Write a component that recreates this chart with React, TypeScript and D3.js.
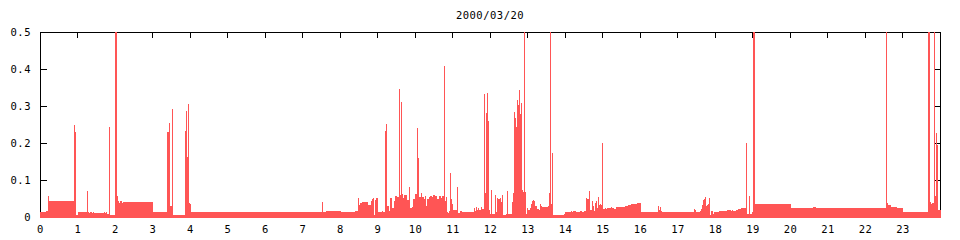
import React from "react";
import * as d3 from "d3";

const TITLE = "2000/03/20";

// start of each step (minutes after midnight)
const segStart = [
  0, 9.6, 12.8, 14.4, 54.4, 56, 57.6, 60.8, 75.2, 76.8,
  78.4, 80, 83.2, 84.8, 86.4, 102.4, 104, 105.6, 107.2, 110.4,
  112, 120, 123.2, 124.8, 126.4, 128, 131.2, 132.8, 180.8, 203.2,
  206.4, 208, 211.2, 212.8, 232, 233.6, 235.2, 236.8, 238.4, 240,
  241.6, 451.2, 452.8, 457.6, 481.6, 504, 508.8, 510.4, 512, 515.2,
  524.8, 529.6, 531.2, 532.8, 534.4, 536, 537.6, 540.8, 547.2, 548.8,
  552, 553.6, 555.2, 558.4, 560, 563.2, 566.4, 568, 571.2, 574.4,
  576, 577.6, 579.2, 580.8, 582.4, 587.2, 590.4, 592, 595.2, 596.8,
  600, 603.2, 604.8, 606.4, 609.6, 611.2, 614.4, 616, 617.6, 619.2,
  622.4, 624, 627.2, 628.8, 632, 635.2, 638.4, 641.6, 643.2, 646.4,
  648, 649.6, 651.2, 652.8, 654.4, 656, 657.6, 659.2, 660.8, 667.2,
  668.8, 672, 675.2, 694.4, 696, 697.6, 699.2, 700.8, 702.4, 705.6,
  707.2, 710.4, 712, 713.6, 715.2, 716.8, 718.4, 720, 721.6, 723.2,
  728, 729.6, 731.2, 732.8, 736, 737.6, 739.2, 740.8, 745.6, 747.2,
  748.8, 755.2, 756.8, 758.4, 760, 761.6, 763.2, 764.8, 766.4, 768,
  769.6, 771.2, 772.8, 774.4, 776, 777.6, 779.2, 780.8, 784, 785.6,
  787.2, 788.8, 790.4, 792, 795.2, 798.4, 800, 801.6, 803.2, 812.8,
  814.4, 816, 817.6, 819.2, 820.8, 838.4, 840, 849.6, 851.2, 852.8,
  857.6, 864, 867.2, 870.4, 873.6, 875.2, 878.4, 880, 883.2, 884.8,
  886.4, 888, 889.6, 891.2, 892.8, 894.4, 896, 897.6, 899.2, 900.8,
  904, 905.6, 907.2, 913.6, 915.2, 918.4, 921.6, 936, 940.8, 945.6,
  955.2, 961.6, 988.8, 990.4, 992, 993.6, 995.2, 1046.4, 1048, 1049.6,
  1056, 1057.6, 1059.2, 1060.8, 1062.4, 1064, 1065.6, 1067.2, 1068.8, 1070.4,
  1072, 1073.6, 1076.8, 1078.4, 1086.4, 1099.2, 1105.6, 1107.2, 1108.8, 1113.6,
  1116.8, 1121.6, 1129.6, 1131.2, 1134.4, 1136, 1139.2, 1140.8, 1144, 1201.6,
  1236.8, 1241.6, 1353.6, 1355.2, 1356.8, 1361.6, 1371.2, 1380.8, 1420.8, 1424,
  1425.6, 1427.2, 1430.4, 1432, 1433.6, 1435.2, 1436.8,
];

// value of each step
const segValue = [
  0.014, 0.017, 0.057, 0.043, 0.249, 0.23, 0.006, 0.014, 0.07, 0.014,
  0.011, 0.014, 0.011, 0.014, 0.011, 0.014, 0.011, 0.014, 0.008, 0.243,
  0.006, 0.62, 0.057, 0.043, 0.038, 0.043, 0.038, 0.041, 0.014, 0.23,
  0.254, 0.03, 0.292, 0.006, 0.232, 0.286, 0.162, 0.305, 0.038, 0.035,
  0.014, 0.04, 0.014, 0.016, 0.014, 0.016, 0.051, 0.032, 0.038, 0.04,
  0.032, 0.043, 0.049, 0.051, 0.005, 0.046, 0.051, 0.014, 0.016, 0.014,
  0.232, 0.251, 0.03, 0.016, 0.051, 0.024, 0.043, 0.057, 0.054, 0.346,
  0.059, 0.311, 0.062, 0.051, 0.059, 0.046, 0.081, 0.024, 0.027, 0.049,
  0.062, 0.241, 0.159, 0.054, 0.065, 0.054, 0.049, 0.057, 0.03, 0.049,
  0.054, 0.057, 0.054, 0.059, 0.057, 0.049, 0.057, 0.051, 0.057, 0.408,
  0.043, 0.054, 0.014, 0.011, 0.016, 0.119, 0.049, 0.035, 0.019, 0.081,
  0.011, 0.016, 0.014, 0.024, 0.016, 0.027, 0.019, 0.024, 0.019, 0.027,
  0.022, 0.332, 0.065, 0.281, 0.335, 0.259, 0.019, 0.008, 0.073, 0.008,
  0.059, 0.014, 0.051, 0.049, 0.051, 0.04, 0.059, 0.005, 0.008, 0.07,
  0.008, 0.04, 0.065, 0.284, 0.268, 0.243, 0.316, 0.303, 0.343, 0.278,
  0.308, 0.073, 0.068, 0.62, 0.068, 0.008, 0.024, 0.019, 0.024, 0.035,
  0.043, 0.046, 0.043, 0.03, 0.022, 0.019, 0.035, 0.03, 0.027, 0.03,
  0.065, 0.62, 0.035, 0.173, 0.005, 0.008, 0.014, 0.016, 0.014, 0.016,
  0.014, 0.016, 0.014, 0.016, 0.051, 0.049, 0.07, 0.019, 0.043, 0.03,
  0.016, 0.038, 0.043, 0.024, 0.054, 0.032, 0.035, 0.032, 0.2, 0.022,
  0.024, 0.022, 0.024, 0.027, 0.024, 0.022, 0.027, 0.03, 0.032, 0.035,
  0.038, 0.014, 0.03, 0.019, 0.027, 0.016, 0.014, 0.022, 0.019, 0.014,
  0.016, 0.022, 0.032, 0.046, 0.049, 0.054, 0.03, 0.032, 0.035, 0.051,
  0.005, 0.016, 0.008, 0.014, 0.016, 0.019, 0.016, 0.019, 0.016, 0.019,
  0.022, 0.024, 0.2, 0.008, 0.057, 0.008, 0.014, 0.62, 0.035, 0.024,
  0.027, 0.024, 0.62, 0.038, 0.032, 0.027, 0.024, 0.014, 0.62, 0.04,
  0.035, 0.038, 0.62, 0.057, 0.227, 0.195, 0.019,
];

const hourTicks = [
  0, 1, 2, 3, 4, 5, 6, 7, 8, 9, 10, 11, 12, 13, 14, 15, 16, 17, 18, 19, 20, 21, 22, 23,
];
const yTicks = [0, 0.1, 0.2, 0.3, 0.4, 0.5];
const yTickLabels = ["0", "0.1", "0.2", "0.3", "0.4", "0.5"];

const W = 960;
const H = 240;
const FONT = "'DejaVu Sans Mono', 'Liberation Mono', monospace";
const RED = "#ff5555";

export default function App() {
  const x = d3.scaleLinear().domain([0, 1440]).range([40, 940]);
  const y = d3.scaleLinear().domain([0, 0.5]).range([217, 32]).clamp(true);
  const n = Math.min(segStart.length, segValue.length);

  const bars = [];
  for (let i = 0; i < n; i++) {
    const x0 = Math.round(x(segStart[i]));
    const x1 = i < n - 1 ? Math.round(x(segStart[i + 1])) : Math.round(x(1440)) + 1;
    const yt = Math.round(y(segValue[i]));
    bars.push(
      <rect key={i} x={x0} y={yt} width={Math.max(1, x1 - x0)} height={218 - yt} fill={RED} />
    );
  }

  const L = 40.5, R = 940.5, T = 32.5, B = 217.5;

  return (
    <svg
      width={W}
      height={H}
      style={{ position: "fixed", left: 0, top: 0, background: "#fff" }}
      shapeRendering="crispEdges"
    >
      <rect x={0} y={0} width={W} height={H} fill="#fff" />
      <text x={490} y={19} textAnchor="middle" fontFamily={FONT} fontSize={10.5} letterSpacing={0.5} fill="#000">
        {TITLE}
      </text>
      {/* border */}
      <path d={`M${L},${T}H${R}V${B}H${L}Z`} fill="none" stroke="#000" strokeWidth={1} />
      {/* top ticks */}
      {hourTicks.map((h) => {
        const xx = Math.floor(x(h * 60)) + 0.5;
        return <line key={"t" + h} x1={xx} x2={xx} y1={T} y2={T + 5} stroke="#000" />;
      })}
      {/* y ticks left/right */}
      {yTicks.map((v) => {
        const yy = Math.round(y(v)) + 0.5;
        return (
          <g key={"y" + v}>
            <line x1={L} x2={L + 6} y1={yy} y2={yy} stroke="#000" />
            <line x1={R - 6} x2={R} y1={yy} y2={yy} stroke="#000" />
          </g>
        );
      })}
      {bars}
      {/* labels */}
      {yTicks.map((v, i) => (
        <text
          key={"yl" + v}
          x={31}
          y={Math.round(y(v)) + 4}
          textAnchor="end"
          fontFamily={FONT}
          fontSize={10.5}
          letterSpacing={0.5}
          fill="#000"
        >
          {yTickLabels[i]}
        </text>
      ))}
      {hourTicks.map((h) => (
        <text
          key={"xl" + h}
          x={x(h * 60) + 0.5}
          y={233}
          textAnchor="middle"
          fontFamily={FONT}
          fontSize={10.5}
          letterSpacing={0.5}
          fill="#000"
        >
          {String(h)}
        </text>
      ))}
    </svg>
  );
}
